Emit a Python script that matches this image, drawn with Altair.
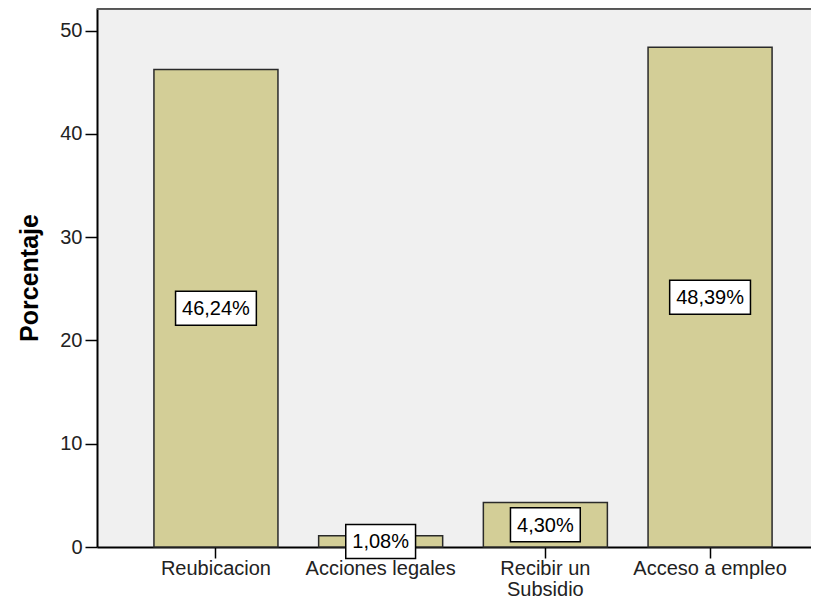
import altair as alt
import pandas as pd

# ---- data ----
categorias = ["Reubicacion", "Acciones legales", "Recibir un Subsidio", "Acceso a empleo"]
porcentajes = [46.24, 1.08, 4.30, 48.39]
y_ticks = [0, 10, 20, 30, 40, 50]

FONT = "Liberation Sans"
LABEL_SIZE = 20
PLOT_W = 714
PLOT_H = 539


def etiqueta(v):
    return f"{v:.2f}".replace(".", ",") + "%"


def ancho_texto(s):
    w = {",": 0.278, "%": 0.889}
    return sum(w.get(c, 0.556) for c in s) * LABEL_SIZE


def caja(s):
    hw = ancho_texto(s) / 2 + 6.5
    hh = 17
    return f"M{-hw:.1f},{-hh}L{hw:.1f},{-hh}L{hw:.1f},{hh}L{-hw:.1f},{hh}Z"


df = pd.DataFrame({"cat": categorias, "pct": porcentajes})
df["mid"] = df["pct"] / 2
df["label"] = df["pct"].map(etiqueta)
df["box"] = df["label"].map(caja)

x_scale = alt.Scale(domain=categorias, paddingInner=0.247, paddingOuter=0.291, align=0.594)
y_scale = alt.Scale(domain=[0, 52.2], nice=False, zero=True)

x_enc = alt.X(
    "cat:N",
    scale=x_scale,
    sort=categorias,
    axis=alt.Axis(
        title=None,
        labelAngle=0,
        labelFont=FONT,
        labelFontSize=20,
        labelColor="#222222",
        labelExpr="datum.value == 'Recibir un Subsidio' ? ['Recibir un', 'Subsidio'] : datum.label",
        labelLineHeight=21,
        labelPadding=0,
        labelOverlap=False,
        tickSize=11,
        tickColor="black",
        tickWidth=1.5,
        domainColor="black",
        domainWidth=2,
    ),
)

y_enc = alt.Y(
    "pct:Q",
    scale=y_scale,
    axis=alt.Axis(
        values=y_ticks,
        title="Porcentaje",
        titleFont=FONT,
        titleFontSize=25,
        titleFontWeight="bold",
        titleColor="black",
        titleAngle=270,
        titleX=-68,
        titleY=PLOT_H / 2,
        titleAlign="center",
        titleBaseline="middle",
        labelFont=FONT,
        labelFontSize=20,
        labelColor="#222222",
        labelPadding=3,
        tickSize=12,
        tickColor="black",
        tickWidth=1.5,
        domainColor="black",
        domainWidth=2,
        grid=False,
    ),
)

# top frame line of the plot area (decoration)
frame_top = alt.Chart(df).mark_rule(color="#555555", strokeWidth=1.5).encode(
    x=alt.value(0), x2=alt.value(PLOT_W), y=alt.value(0.75)
)

bars = alt.Chart(df).mark_bar(
    fill="#D3CE97", stroke="#2a2a2a", strokeWidth=1.5
).encode(x=x_enc, y=y_enc)

boxes = alt.Chart(df).mark_point(
    filled=True, fill="white", stroke="black", strokeWidth=1.5, opacity=1, size=4
).encode(
    x=alt.X("cat:N", scale=x_scale, sort=categorias),
    y=alt.Y("mid:Q", scale=y_scale),
    shape=alt.Shape("box:N", scale=None),
)

texts = alt.Chart(df).mark_text(
    font=FONT, fontSize=LABEL_SIZE, color="black", align="center", baseline="middle", dy=1
).encode(
    x=alt.X("cat:N", scale=x_scale, sort=categorias),
    y=alt.Y("mid:Q", scale=y_scale),
    text="label:N",
)

chart = (
    alt.layer(bars, boxes, texts, frame_top)
    .properties(
        width=PLOT_W,
        height=PLOT_H,
        autosize=alt.AutoSizeParams(type="none"),
        padding={"left": 89, "top": 0, "right": 0, "bottom": 51},
        background="white",
    )
    .configure_view(fill="#F0F0F0", strokeWidth=0)
)

chart.save("out.html", embed_options={"renderer": "svg", "actions": False})
